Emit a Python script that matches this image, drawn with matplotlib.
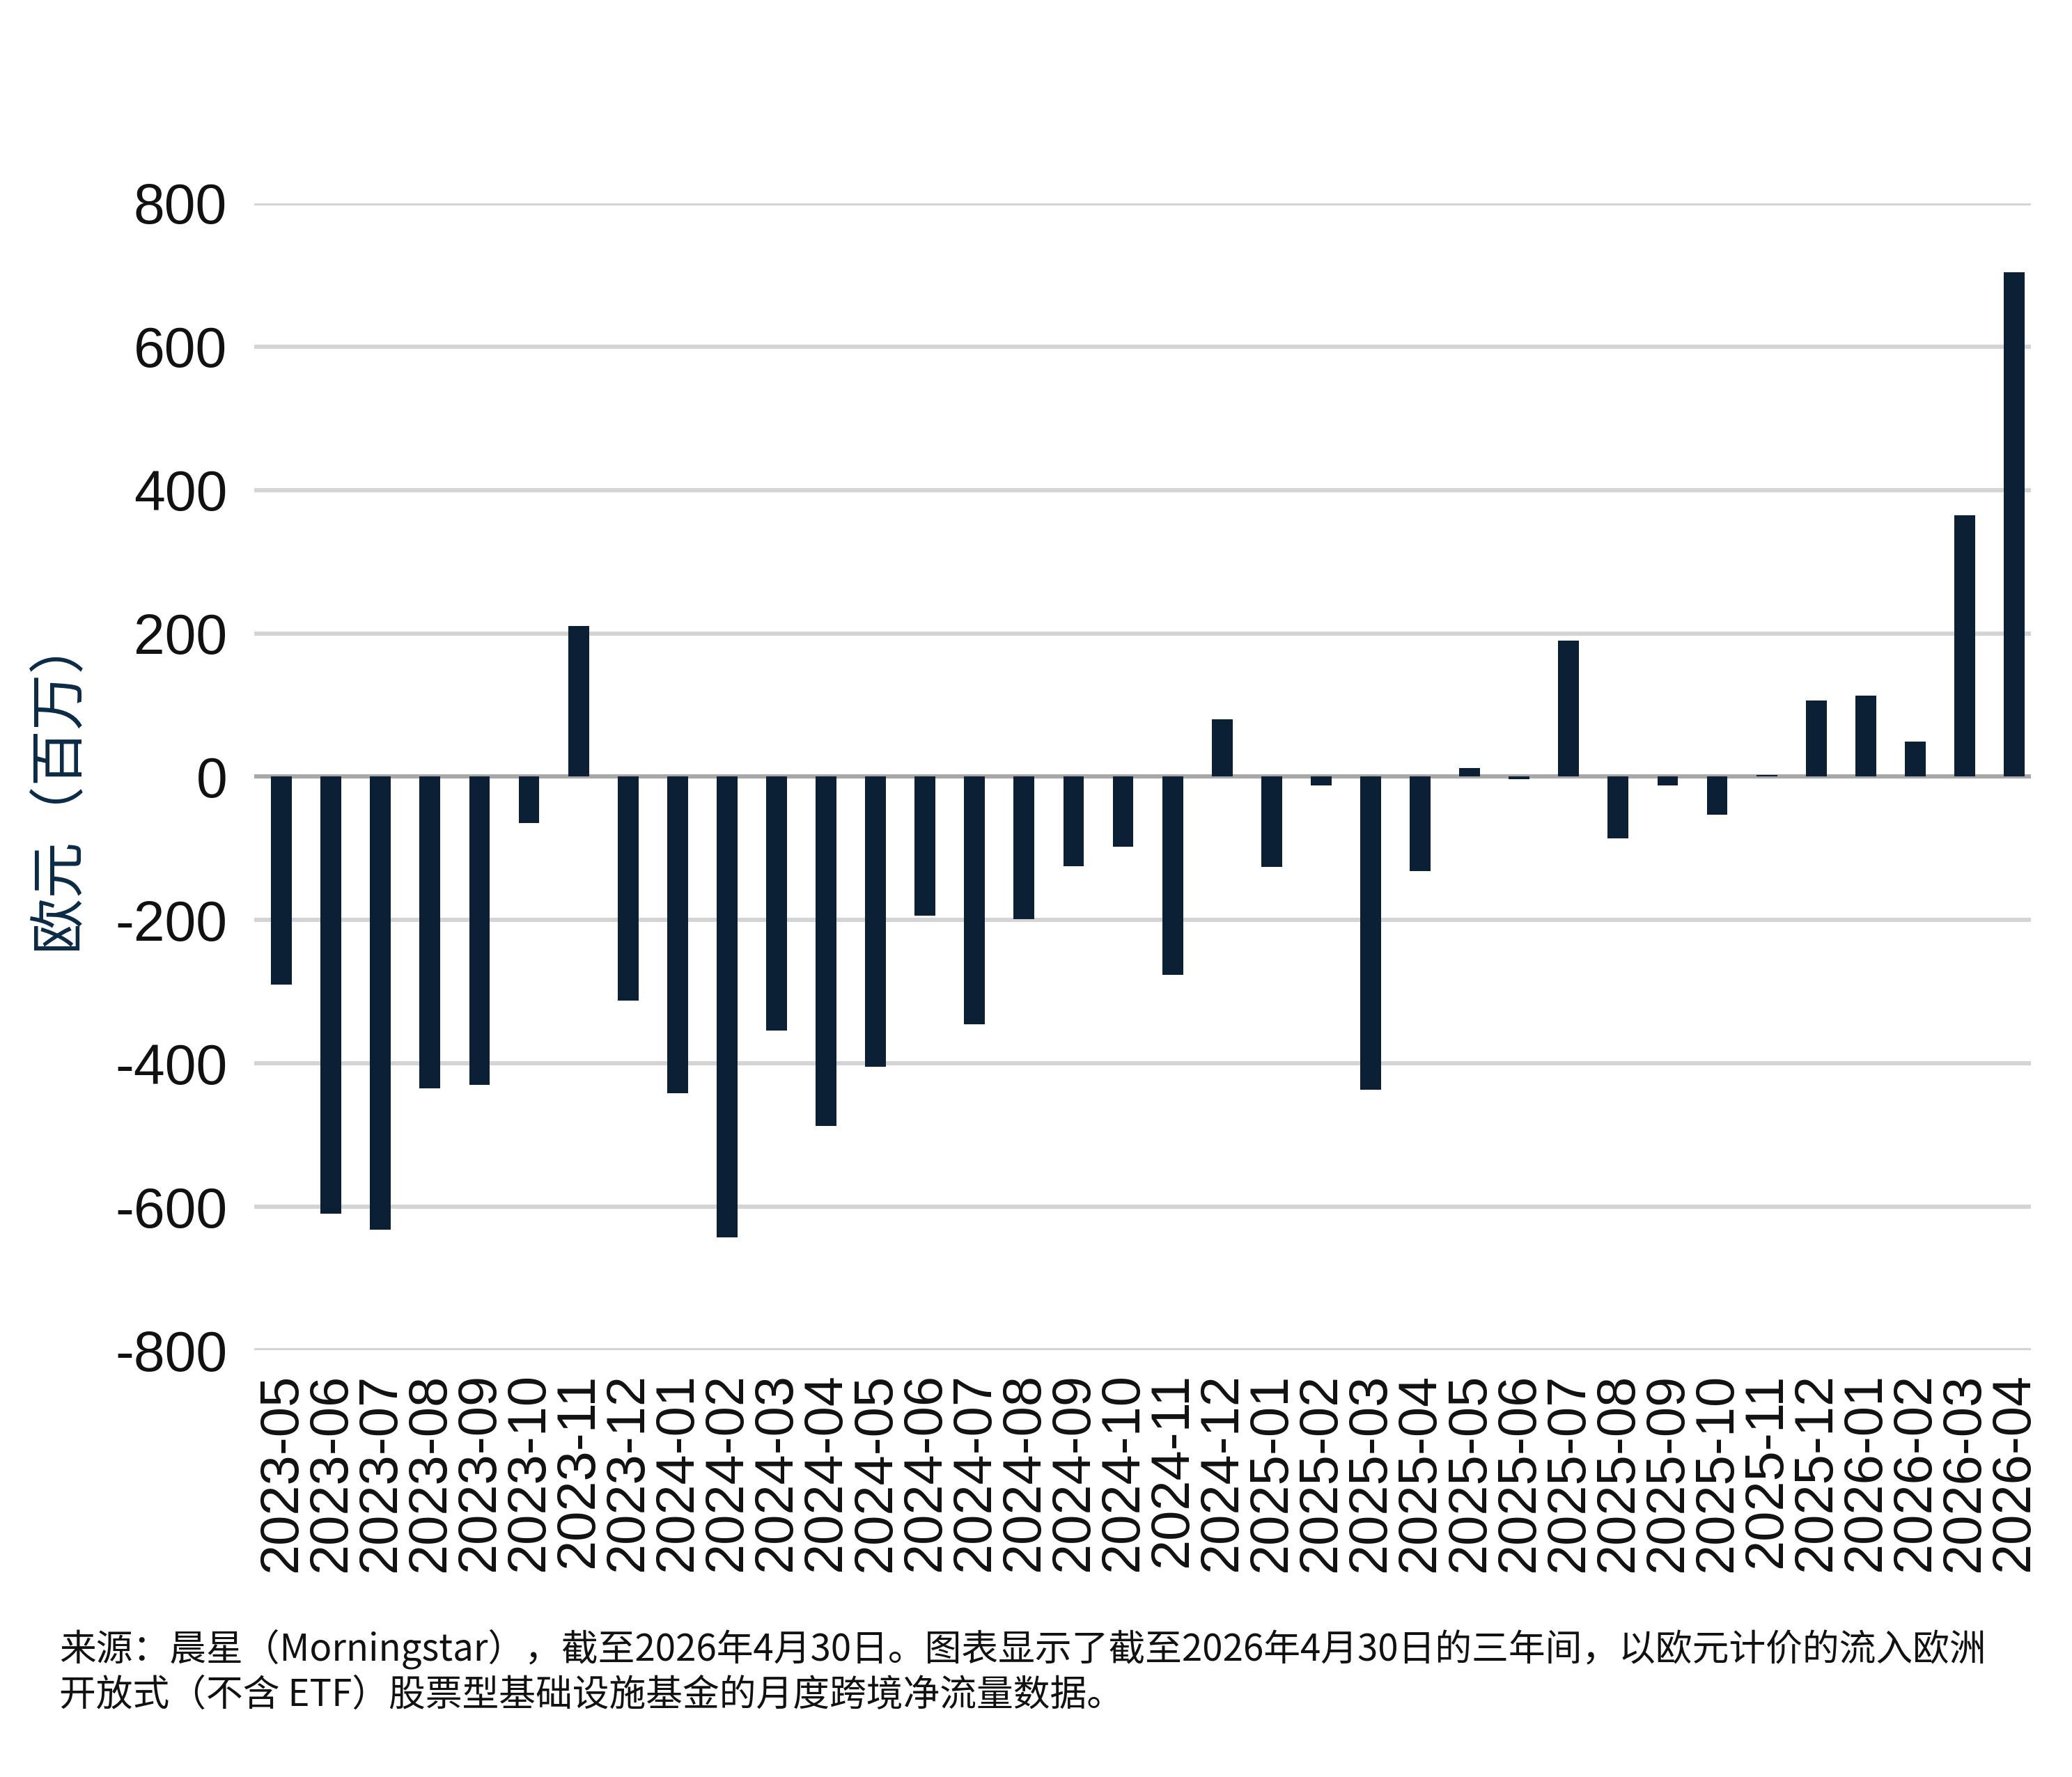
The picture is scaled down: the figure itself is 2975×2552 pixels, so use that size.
import matplotlib
matplotlib.use("Agg")
import matplotlib.pyplot as plt

months = [
    "2023-05", "2023-06", "2023-07", "2023-08", "2023-09", "2023-10", "2023-11", "2023-12",
    "2024-01", "2024-02", "2024-03", "2024-04", "2024-05", "2024-06", "2024-07", "2024-08",
    "2024-09", "2024-10", "2024-11", "2024-12", "2025-01", "2025-02", "2025-03", "2025-04",
    "2025-05", "2025-06", "2025-07", "2025-08", "2025-09", "2025-10", "2025-11", "2025-12",
    "2026-01", "2026-02", "2026-03", "2026-04",
]
flows = [
    -290, -610, -632, -435, -430, -65, 210, -312,
    -442, -643, -354, -487, -405, -194, -345, -199,
    -125, -98, -276, 80, -126, -12, -437, -132,
    12, -3, 190, -86, -12, -53, 2, 106,
    113, 49, 365, 704,
]
y_ticks = [-800, -600, -400, -200, 0, 200, 400, 600, 800]

ylabel = "欧元（百万）"
caption = ("来源：晨星（Morningstar），截至2026年4月30日。图表显示了截至2026年4月30日的三年间，以欧元计价的流入欧洲\n"
           "开放式（不含 ETF）股票型基础设施基金的月度跨境净流量数据。")

plt.rcParams["font.family"] = ["Liberation Sans", "Noto Sans CJK SC", "DejaVu Sans"]

fig = plt.figure(figsize=(14.875, 12.76), dpi=200)
ax = fig.add_axes([0.1227, 0.2402, 0.8573, 0.6454])

x = list(range(len(months)))
ax.bar(x, flows, width=0.42, color="#0b1f35", zorder=3)

ax.set_ylim(-800, 800)
ax.set_xlim(-0.55, len(months) - 0.67)
ax.set_yticks(y_ticks)
ax.set_yticklabels([str(v) for v in y_ticks], fontsize=29, color="#111111")
ax.set_xticks(x)
ax.set_xticklabels(months, rotation=90, fontsize=28, color="#111111")
ax.tick_params(axis="both", length=0)
ax.tick_params(axis="y", pad=14)
ax.tick_params(axis="x", pad=12)

for v in y_ticks:
    ax.axhline(v, color="#a8a8a8" if v == 0 else "#d4d4d6", linewidth=2.2, zorder=1)

for s in ax.spines.values():
    s.set_visible(False)

fig.text(0.028, 0.56, ylabel, rotation=90, ha="center", va="center",
         fontsize=29, color="#0b2a45", family=["Noto Sans CJK SC", "DejaVu Sans"])

fig.text(0.0286, 0.0835, caption, ha="left", va="top", fontsize=19, color="#111111",
         linespacing=1.25, family=["Noto Sans CJK SC", "DejaVu Sans"])

fig.savefig("out.png", dpi=200)
plt.close(fig)
